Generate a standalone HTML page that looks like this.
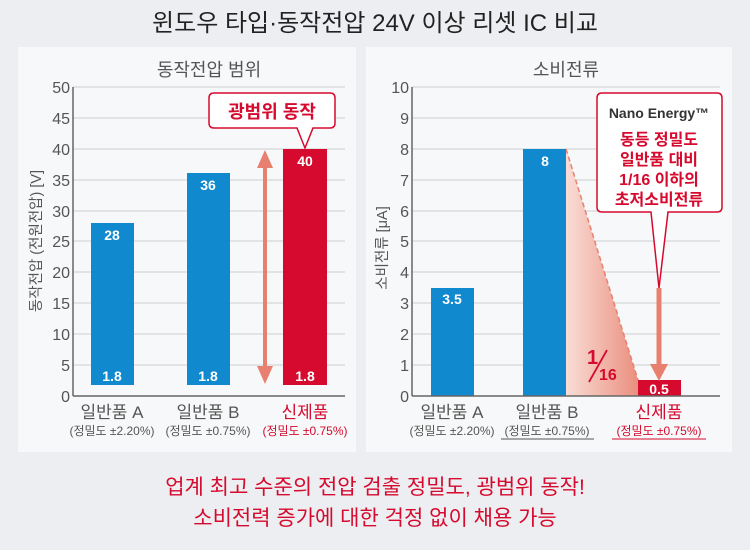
<!DOCTYPE html><html><head><meta charset="utf-8"><style>
body{margin:0;width:750px;height:545px;background:#eceef1;font-family:"Liberation Sans","Noto Sans CJK KR",sans-serif;overflow:hidden}
</style></head><body>
<svg width="750" height="545" xmlns="http://www.w3.org/2000/svg" font-family="Liberation Sans, Noto Sans CJK KR, sans-serif">
<defs><linearGradient id="g" x1="0" x2="1"><stop offset="0" stop-color="#f9ddd6"/><stop offset="1" stop-color="#ea8f7f"/></linearGradient></defs>
<text x="375" y="31" font-size="24" text-anchor="middle" fill="#222">윈도우 타입·동작전압 24V 이상 리셋 IC 비교</text>
<rect x="18" y="47" width="338" height="405" fill="#f7f8f9"/>
<rect x="366" y="47" width="366" height="405" fill="#f7f8f9"/>
<text x="209" y="76" font-size="18" text-anchor="middle" fill="#555">동작전압 범위</text>
<text x="566" y="76" font-size="18" text-anchor="middle" fill="#555">소비전류</text>
<g stroke="#d4d6d9" stroke-width="1.2">
<line x1="73" x2="345" y1="87" y2="87"/><line x1="73" x2="345" y1="118" y2="118"/><line x1="73" x2="345" y1="149" y2="149"/><line x1="73" x2="345" y1="180" y2="180"/><line x1="73" x2="345" y1="211" y2="211"/><line x1="73" x2="345" y1="241" y2="241"/><line x1="73" x2="345" y1="272" y2="272"/><line x1="73" x2="345" y1="303" y2="303"/><line x1="73" x2="345" y1="334" y2="334"/><line x1="73" x2="345" y1="365" y2="365"/>
<line x1="412" x2="720" y1="87" y2="87"/><line x1="412" x2="720" y1="118" y2="118"/><line x1="412" x2="720" y1="149" y2="149"/><line x1="412" x2="720" y1="180" y2="180"/><line x1="412" x2="720" y1="211" y2="211"/><line x1="412" x2="720" y1="241" y2="241"/><line x1="412" x2="720" y1="272" y2="272"/><line x1="412" x2="720" y1="303" y2="303"/><line x1="412" x2="720" y1="334" y2="334"/><line x1="412" x2="720" y1="365" y2="365"/>
</g>
<g font-size="16" fill="#555" text-anchor="end">
<text x="70" y="93">50</text><text x="70" y="124">45</text><text x="70" y="155">40</text><text x="70" y="186">35</text><text x="70" y="217">30</text><text x="70" y="247">25</text><text x="70" y="278">20</text><text x="70" y="309">15</text><text x="70" y="340">10</text><text x="70" y="371">5</text><text x="70" y="402">0</text>
<text x="409" y="93">10</text><text x="409" y="124">9</text><text x="409" y="155">8</text><text x="409" y="186">7</text><text x="409" y="217">6</text><text x="409" y="247">5</text><text x="409" y="278">4</text><text x="409" y="309">3</text><text x="409" y="340">2</text><text x="409" y="371">1</text><text x="409" y="402">0</text>
</g>
<text transform="translate(41,241) rotate(-90)" font-size="14.5" fill="#555" text-anchor="middle">동작전압 (전원전압) [V]</text>
<text transform="translate(387,248) rotate(-90)" font-size="14.5" fill="#555" text-anchor="middle">소비전류 [μA]</text>
<rect x="91" y="223" width="43" height="162" fill="#1089ce"/>
<rect x="187" y="173" width="43" height="212" fill="#1089ce"/>
<rect x="283" y="149" width="44" height="236" fill="#d60a2e"/>
<g font-size="14" font-weight="bold" fill="#fff" text-anchor="middle">
<text x="112" y="240">28</text><text x="208" y="190">36</text><text x="305" y="166">40</text>
<text x="112" y="381">1.8</text><text x="208" y="381">1.8</text><text x="305" y="381">1.8</text>
</g>
<line x1="73" y1="87" x2="73" y2="396" stroke="#666" stroke-width="1.5"/>
<line x1="73" y1="396" x2="345" y2="396" stroke="#666" stroke-width="1.5"/>
<line x1="265" y1="160" x2="265" y2="374" stroke="#e8806f" stroke-width="4"/>
<polygon points="265,150 257,168 273,168" fill="#e8806f"/><polygon points="265,384 257,366 273,366" fill="#e8806f"/>
<path d="M214,93 H330 Q335,93 335,98 V123 Q335,128 330,128 H313 L305,148 L297,128 H214 Q209,128 209,123 V98 Q209,93 214,93Z" fill="#fff" stroke="#d60a2e" stroke-width="1.5"/>
<text x="272" y="118" font-size="18" font-weight="bold" fill="#d60a2e" text-anchor="middle">광범위 동작</text>
<g font-size="17" fill="#555" text-anchor="middle">
<text x="112" y="418">일반품 A</text><text x="208" y="418">일반품 B</text><text x="305" y="418" fill="#d60a2e">신제품</text>
<text x="452" y="418">일반품 A</text><text x="547" y="418">일반품 B</text><text x="659" y="418" fill="#d60a2e">신제품</text>
</g>
<g font-size="12" fill="#555" text-anchor="middle">
<text x="112" y="435">(정밀도 ±2.20%)</text><text x="208" y="435">(정밀도 ±0.75%)</text><text x="305" y="435" fill="#d60a2e">(정밀도 ±0.75%)</text>
<text x="452" y="435">(정밀도 ±2.20%)</text><text x="547" y="435">(정밀도 ±0.75%)</text><text x="659" y="435" fill="#d60a2e">(정밀도 ±0.75%)</text>
</g>
<line x1="501" x2="594" y1="439" y2="439" stroke="#555" stroke-width="1"/>
<line x1="612" x2="706" y1="439" y2="439" stroke="#d60a2e" stroke-width="1"/>
<polygon points="566,149 638,380 638,396 566,396" fill="url(#g)"/>
<line x1="566" y1="149" x2="638" y2="380" stroke="#e8806f" stroke-width="1.5" stroke-dasharray="5,3"/>
<rect x="431" y="288" width="43" height="108" fill="#1089ce"/>
<rect x="523" y="149" width="43" height="247" fill="#1089ce"/>
<rect x="638" y="380" width="43" height="16" fill="#d60a2e"/>
<g font-size="14" font-weight="bold" fill="#fff" text-anchor="middle">
<text x="452" y="304">3.5</text><text x="545" y="166">8</text><text x="659" y="394">0.5</text>
</g>
<text x="587" y="364" font-size="20" font-weight="bold" fill="#d60a2e">1</text>
<line x1="589" y1="382" x2="607" y2="350" stroke="#d60a2e" stroke-width="1.8"/>
<text x="599" y="380" font-size="16" font-weight="bold" fill="#d60a2e">16</text>
<line x1="412" y1="87" x2="412" y2="396" stroke="#666" stroke-width="1.5"/>
<line x1="412" y1="396" x2="720" y2="396" stroke="#666" stroke-width="1.5"/>
<line x1="659" y1="288" x2="659" y2="368" stroke="#e8806f" stroke-width="5"/>
<polygon points="659,381 650,364 668,364" fill="#e8806f"/>
<path d="M602,93 H717 Q722,93 722,98 V207 Q722,212 717,212 H668 L659,288 L651,212 H602 Q597,212 597,207 V98 Q597,93 602,93Z" fill="#fff" stroke="#d60a2e" stroke-width="1.5"/>
<text x="659" y="118" font-size="14" font-weight="bold" fill="#333" text-anchor="middle">Nano Energy™</text>
<g font-size="16" font-weight="bold" fill="#d60a2e" text-anchor="middle">
<text x="659" y="145">동등 정밀도</text><text x="659" y="165">일반품 대비</text><text x="659" y="185">1/16 이하의</text><text x="659" y="205">초저소비전류</text>
</g>
<g font-size="21" fill="#d60a2e" text-anchor="middle">
<text x="375" y="494">업계 최고 수준의 전압 검출 정밀도, 광범위 동작!</text>
<text x="375" y="525">소비전력 증가에 대한 걱정 없이 채용 가능</text>
</g>
</svg>
</body></html>
